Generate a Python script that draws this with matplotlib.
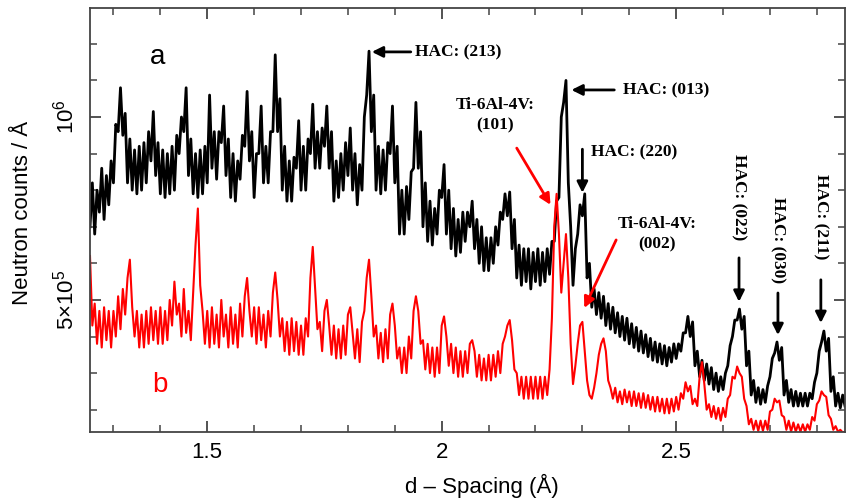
import numpy as np
import matplotlib
matplotlib.use("Agg")
import matplotlib.pyplot as plt
from matplotlib.ticker import MultipleLocator, FixedLocator

plt.rcParams['font.family'] = ['Liberation Sans', 'DejaVu Sans']
plt.rcParams['mathtext.fontset'] = 'custom'
plt.rcParams['mathtext.rm'] = 'Liberation Sans'
plt.rcParams['mathtext.it'] = 'Liberation Sans:italic'

# d-spacing sampling (Angstrom)
d_start = 1.25
d_step = 0.005

# Sample a (black), neutron counts in thousands
black_k = [
    700, 820, 680, 800, 740, 860, 720, 840, 760, 880,
    820, 980, 960, 1080, 950, 1010, 820, 940, 800, 910,
    790, 920, 800, 930, 820, 960, 880, 1015, 840, 930,
    790, 910, 780, 900, 790, 920, 800, 950, 900, 1000,
    960, 1080, 840, 940, 790, 900, 780, 910, 790, 920,
    820, 1060, 860, 960, 830, 960, 930, 1030, 840, 940,
    780, 900, 770, 880, 830, 950, 920, 1070, 880, 960,
    780, 900, 900, 1030, 820, 920, 820, 960, 960, 1170,
    960, 1050, 800, 920, 770, 880, 770, 890, 860, 990,
    800, 920, 800, 940, 900, 1035, 860, 960, 860, 970,
    920, 1030, 860, 960, 770, 880, 780, 900, 800, 930,
    840, 970, 800, 900, 760, 870, 800, 1000, 1060, 1180,
    960, 1060, 800, 920, 790, 910, 800, 930, 900, 1030,
    820, 920, 680, 800, 680, 810, 720, 850, 860, 1040,
    860, 960, 700, 820, 660, 770, 650, 750, 680, 800,
    780, 870, 680, 800, 640, 750, 620, 720, 630, 740,
    660, 740, 700, 770, 640, 720, 600, 700, 580, 670,
    580, 670, 600, 700, 650, 740, 720, 790, 730, 795,
    640, 720, 560, 650, 540, 640, 550, 640, 530, 630,
    550, 640, 540, 630, 550, 640, 570, 660, 660, 770,
    780, 1000, 1040, 1100, 820, 700, 540, 640, 680, 760,
    730, 790, 560, 600, 480, 530, 460, 520, 450, 510,
    430, 490, 420, 480, 410, 465, 400, 455, 390, 450,
    380, 435, 370, 425, 360, 415, 355, 405, 345, 395,
    335, 385, 330, 380, 325, 375, 320, 370, 330, 380,
    340, 380, 360, 410, 410, 455, 400, 440, 320, 360,
    290, 335, 280, 325, 270, 315, 255, 300, 250, 290,
    255, 300, 320, 375, 400, 445, 445, 475, 420, 455,
    320, 360, 240, 280, 220, 260, 215, 255, 220, 265,
    290, 340, 355, 385, 335, 370, 240, 280, 220, 255,
    210, 250, 210, 245, 210, 245, 210, 245, 230, 275,
    300, 360, 385, 415, 360, 395, 250, 290, 210, 245, 205, 240, 210,
]

# Sample b (red), neutron counts in thousands
red_k = [
    620, 430, 490, 380, 470, 370, 480, 390, 470, 370,
    470, 400, 510, 420, 530, 460, 560, 610, 480, 400,
    470, 370, 460, 370, 470, 380, 480, 390, 470, 380,
    480, 380, 470, 390, 500, 430, 550, 460, 490, 400,
    530, 410, 470, 390, 520, 650, 750, 540, 470, 380,
    470, 370, 480, 380, 460, 370, 500, 400, 460, 370,
    480, 380, 460, 370, 490, 400, 510, 560, 470, 400,
    480, 380, 480, 390, 460, 370, 470, 400, 520, 575,
    500, 400, 450, 360, 440, 350, 450, 360, 440, 350,
    430, 350, 450, 400, 560, 645, 530, 420, 440, 360,
    470, 500, 430, 350, 430, 340, 420, 340, 430, 350,
    460, 480, 410, 340, 420, 330, 440, 470, 560, 610,
    510, 400, 430, 340, 410, 330, 420, 340, 460, 490,
    430, 340, 370, 300, 370, 300, 400, 340, 470, 510,
    470, 380, 390, 310, 380, 300, 370, 290, 370, 300,
    430, 455, 400, 320, 380, 300, 370, 290, 360, 290,
    360, 300, 380, 390, 360, 290, 350, 280, 340, 280,
    350, 280, 350, 290, 360, 300, 380, 400, 430, 445,
    390, 310, 300, 240, 290, 230, 290, 230, 290, 230,
    290, 230, 290, 230, 290, 240, 310, 450, 700, 790,
    680, 520, 600, 680, 560, 380, 270, 320, 380, 430,
    440, 360, 280, 240, 230, 260, 300, 350, 380, 395,
    360, 280, 260, 230, 260, 220, 250, 215, 255, 220,
    250, 210, 250, 210, 245, 205, 245, 205, 240, 200,
    235, 195, 235, 195, 230, 190, 230, 190, 230, 195,
    235, 200, 245, 230, 275, 250, 265, 215, 230, 210,
    290, 330, 270, 200, 215, 180, 210, 175, 205, 170,
    205, 180, 230, 240, 290, 285, 318, 300, 290, 230,
    210, 160, 175, 145, 170, 142, 170, 142, 170, 145,
    195, 200, 230, 220, 225, 185, 180, 145, 170, 140,
    165, 140, 160, 140, 160, 140, 160, 145, 180, 170,
    215, 225, 250, 240, 235, 185, 175, 145, 155, 140, 145, 138, 140,
]

x_ticks = [1.5, 2.0, 2.5]
x_tick_labels = ["1.5", "2", "2.5"]
y_ticks = [5e5, 1e6]
y_tick_labels = [r"5×10$^5$", r"10$^6$"]

d = d_start + d_step * np.arange(len(black_k))
black = np.array(black_k) * 1e3
red = np.array(red_k) * 1e3

fig = plt.figure(figsize=(8.46, 5.0), dpi=100)
ax = fig.add_axes([90 / 846, 68 / 500, 755 / 846, 424 / 500])

ax.plot(d, black, color="black", lw=2.0)
ax.plot(d, red, color="#ff0000", lw=1.5)

ax.set_xlim(1.25, 2.86)
ax.set_ylim(1.39e5, 1.298e6)

ax.xaxis.set_major_locator(FixedLocator(x_ticks))
ax.set_xticklabels(x_tick_labels)
ax.xaxis.set_minor_locator(MultipleLocator(0.1))
ax.yaxis.set_major_locator(FixedLocator(y_ticks))
ax.set_yticklabels(y_tick_labels, rotation=90, va="center")
ax.yaxis.set_minor_locator(MultipleLocator(1e5))

spine_c = "#444444"
for s in ax.spines.values():
    s.set_color(spine_c)
    s.set_linewidth(1.3)
ax.tick_params(which="both", direction="in", top=True, right=True,
               color=spine_c, labelsize=16)
ax.tick_params(which="major", length=8, width=1.3)
ax.tick_params(which="minor", length=5, width=1.1)
ax.tick_params(axis="x", which="major", pad=7)
ax.tick_params(axis="y", which="major", pad=8)

ax.set_xlabel("d \u2013 Spacing (Å)", fontsize=16)
ax.xaxis.set_label_coords(0.5185, -0.098)
ax.set_ylabel("Neutron counts / Å", fontsize=16)
ax.yaxis.set_label_coords(-0.075, 0.517)

ax.text(0.09, 0.884, "a", transform=ax.transAxes, fontsize=20,
        color="black", ha="center", va="center")
ax.text(0.092, 0.111, "b", transform=ax.transAxes, fontsize=20,
        color="#ff0000", ha="center", va="center")

ann = dict(family="Liberation Serif", weight="bold", fontsize=12.5)
arr_k = dict(arrowstyle="-|>", lw=2.0, color="black", mutation_scale=16,
             shrinkA=0, shrinkB=0)
arr_r = dict(arrowstyle="-|>", lw=2.0, color="#ff0000", mutation_scale=16,
             shrinkA=0, shrinkB=0)

# HAC (213)
ax.annotate("", xy=(1.851, 1.178e6), xytext=(1.934, 1.178e6), arrowprops=arr_k)
ax.text(1.943, 1.178e6, "HAC: (213)", ha="left", va="center", **ann)
# HAC (013)
ax.annotate("", xy=(2.2766, 1.074e6), xytext=(2.368, 1.074e6), arrowprops=arr_k)
ax.text(2.387, 1.074e6, "HAC: (013)", ha="left", va="center", **ann)
# Ti-6Al-4V (101)
ax.text(2.113, 1.005e6, "Ti-6Al-4V:\n(101)", ha="center", va="center",
        multialignment="center", linespacing=1.35, **ann)
ax.annotate("", xy=(2.232, 0.760e6), xytext=(2.160, 0.915e6), arrowprops=arr_r)
# HAC (220)
ax.text(2.319, 0.904e6, "HAC: (220)", ha="left", va="center", **ann)
ax.annotate("", xy=(2.300, 0.793e6), xytext=(2.300, 0.912e6), arrowprops=arr_k)
# Ti-6Al-4V (002)
ax.text(2.460, 0.680e6, "Ti-6Al-4V:\n(002)", ha="center", va="center",
        multialignment="center", linespacing=1.35, **ann)
ax.annotate("", xy=(2.304, 0.478e6), xytext=(2.372, 0.664e6), arrowprops=arr_r)
# Rotated HAC labels with down arrows
for xd, yc, y0, y1, lab in [(2.634, 0.781e6, 0.615e6, 0.495e6, "HAC: (022)"),
                            (2.717, 0.664e6, 0.519e6, 0.404e6, "HAC: (030)"),
                            (2.8085, 0.727e6, 0.555e6, 0.437e6, "HAC: (211)")]:
    ax.text(xd, yc, lab, rotation=270, ha="center", va="center", **ann)
    ax.annotate("", xy=(xd, y1), xytext=(xd, y0), arrowprops=arr_k)

fig.savefig("out.png", dpi=100)
